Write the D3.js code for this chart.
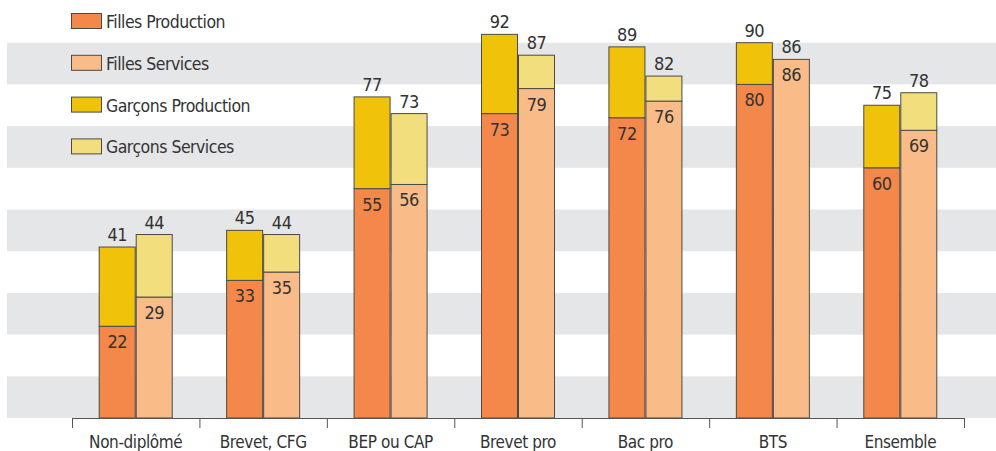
<!DOCTYPE html>
<html>
<head>
<meta charset="utf-8">
<script src="https://cdn.jsdelivr.net/npm/d3@7"></script>
<style>
  body { margin: 0; background: #fff; }
  text { font-family: "Liberation Sans Narrow", "DejaVu Sans Condensed", "Roboto", sans-serif; fill: #333; }
</style>
</head>
<body>
<div id="chart"></div>
<script>
// data
const categories = ['Non-diplômé', 'Brevet, CFG', 'BEP ou CAP', 'Brevet pro', 'Bac pro', 'BTS', 'Ensemble'];
const fillesProduction = [22, 33, 55, 73, 72, 80, 60];
const totalProduction = [41, 45, 77, 92, 89, 90, 75];
const fillesServices = [29, 35, 56, 79, 76, 86, 69];
const totalServices = [44, 44, 73, 87, 82, 86, 78];
const legendLabels = ['Filles Production', 'Filles Services', 'Garçons Production', 'Garçons Services'];
const legendColors = ['#f4874a', '#f9bb87', '#f0c20a', '#f3de7e'];

const width = 996, height = 451;
const margin = { top: 1, right: 32, bottom: 33, left: 72 };

const svg = d3.select('#chart').append('svg')
    .attr('width', width)
    .attr('height', height);

const x = d3.scaleBand()
    .domain(categories)
    .range([margin.left, width - margin.right]);

const y = d3.scaleLinear()
    .domain([0, 100])
    .range([height - margin.bottom, margin.top]);

// gray stripes
const stripes = d3.range(0, 100, 20);
svg.selectAll('.stripe')
    .data(stripes)
    .join('rect')
    .attr('class', 'stripe')
    .attr('x', 7)
    .attr('width', width - 7)
    .attr('y', d => y(d + 10))
    .attr('height', d => y(d) - y(d + 10))
    .attr('fill', '#e5e6e8');

const barW = 36;
const bars = svg.append('g');

categories.forEach((c, i) => {
    const cx = x(c) + x.bandwidth() / 2;
    const segs = [
        { x0: cx - barW - 0.5, lo: 0, hi: fillesProduction[i], color: legendColors[0] },
        { x0: cx - barW - 0.5, lo: fillesProduction[i], hi: totalProduction[i], color: legendColors[2] },
        { x0: cx + 0.5, lo: 0, hi: fillesServices[i], color: legendColors[1] },
        { x0: cx + 0.5, lo: fillesServices[i], hi: totalServices[i], color: legendColors[3] }
    ].filter(s => s.hi > s.lo);

    bars.selectAll(null)
        .data(segs)
        .join('rect')
        .attr('x', d => d.x0)
        .attr('width', barW)
        .attr('y', d => y(d.hi))
        .attr('height', d => y(d.lo) - y(d.hi))
        .attr('fill', d => d.color)
        .attr('stroke', '#4a4a4a')
        .attr('stroke-width', 1);

    // labels: filles inside, total above
    const labels = [
        { x: cx - barW / 2 - 0.5, y: y(fillesProduction[i]) + 22, t: fillesProduction[i] },
        { x: cx + barW / 2 + 0.5, y: y(fillesServices[i]) + 22, t: fillesServices[i] },
        { x: cx - barW / 2 - 0.5, y: y(totalProduction[i]) - 6, t: totalProduction[i] },
        { x: cx + barW / 2 + 0.5, y: y(totalServices[i]) - 6, t: totalServices[i] }
    ];
    bars.selectAll(null)
        .data(labels)
        .join('text')
        .attr('x', d => d.x)
        .attr('y', d => d.y)
        .attr('text-anchor', 'middle')
        .style('font-size', '18px')
        .style('letter-spacing', '-0.5px')
        .text(d => d.t);
});

// x axis
const xAxis = d3.axisBottom(x).tickSize(0).tickPadding(18);
const xAxisG = svg.append('g')
    .attr('transform', `translate(0,${y(0)})`)
    .call(xAxis);
xAxisG.select('.domain').attr('stroke', '#555').attr('d', `M${margin.left},0.5H${width - margin.right}`);
xAxisG.selectAll('.tick text')
    .style('font-size', '17px')
    .style('letter-spacing', '-0.4px')
    .attr('fill', '#333');
xAxisG.selectAll('.sep')
    .data(d3.range(categories.length + 1))
    .join('line')
    .attr('class', 'sep')
    .attr('x1', i => margin.left + i * x.step() + 0.5)
    .attr('x2', i => margin.left + i * x.step() + 0.5)
    .attr('y1', 0)
    .attr('y2', 10)
    .attr('stroke', '#555');

// legend
const legend = svg.append('g');
legendLabels.forEach((l, i) => {
    const cy = 21 + i * 41.8;
    legend.append('rect')
        .attr('x', 71.5).attr('y', cy - 7.5)
        .attr('width', 30).attr('height', 15)
        .attr('fill', legendColors[i])
        .attr('stroke', '#4a4a4a');
    legend.append('text')
        .attr('x', 106).attr('y', cy + 7)
        .style('font-size', '17.5px')
        .style('letter-spacing', '-0.5px')
        .text(l);
});
</script>
</body>
</html>
